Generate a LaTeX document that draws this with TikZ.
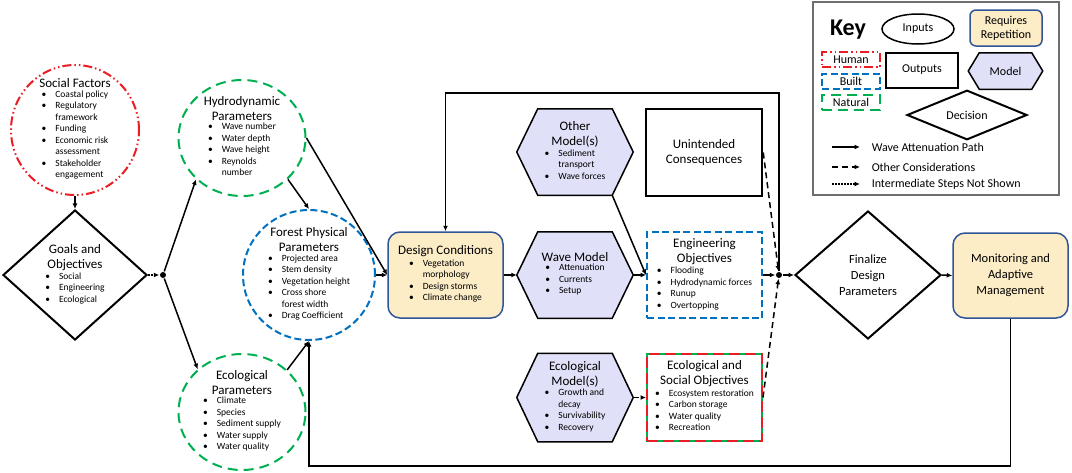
\documentclass[tikz,border=0pt]{standalone}
\usepackage{fontspec}
\setmainfont{Carlito}
\usetikzlibrary{shapes.geometric,arrows.meta,backgrounds}

\definecolor{humanred}{RGB}{235,28,36}
\definecolor{natgreen}{RGB}{0,176,80}
\definecolor{builtblue}{RGB}{0,112,192}
\definecolor{repfill}{RGB}{252,237,199}
\definecolor{repline}{RGB}{47,85,151}
\definecolor{modelfill}{RGB}{224,224,248}
\definecolor{keygray}{RGB}{110,110,110}

\newcommand{\blist}[1]{{\fontsize{9.5}{11.5}\selectfont\begin{tabular}{@{}l@{\hspace{9pt}}l@{}}#1\end{tabular}}}
\newcommand{\bitem}{\textbullet&}
\newcommand{\hexshape}[2][21pt]{%
  \begin{scope}[on background layer]
  \draw[model line] (#2.west) -- ([xshift=#1]#2.north west) -- ([xshift=-#1]#2.north east) -- (#2.east) -- ([xshift=-#1]#2.south east) -- ([xshift=#1]#2.south west) -- cycle;
  \end{scope}}

\begin{document}
\begin{tikzpicture}[x=1pt, y=-1pt, line width=1.5pt, >={Latex[length=5.5pt,width=5pt]},
  every node/.style={align=center, font=\fontsize{13}{15}\selectfont},
  oval node/.style={ellipse, line width=2pt, inner sep=-25pt},
  human/.style={draw=humanred, dash pattern=on 9pt off 3pt on 1.5pt off 3pt on 1.5pt off 3pt},
  natural/.style={draw=natgreen, dash pattern=on 10pt off 6pt},
  built/.style={draw=builtblue, dash pattern=on 7pt off 3.5pt},
  decision node/.style={diamond, draw, line width=2pt, inner sep=-6pt},
  rep node/.style={rectangle, rounded corners=12pt, draw=repline, fill=repfill, line width=1.5pt},
  model node/.style={rectangle, inner sep=0pt},
  model line/.style={draw=black, fill=modelfill, line width=1.5pt},
  out node/.style={rectangle, draw, line width=2.5pt},
  obj node/.style={rectangle, line width=2pt},
  junction/.style={circle, fill, inner sep=0pt, minimum size=6pt},
  dashed link/.style={dash pattern=on 6pt off 4pt},
  dotted link/.style={dash pattern=on 1.5pt off 1.5pt},
  key text/.style={font=\fontsize{12}{14}\selectfont}]
\useasboundingbox (0,0) rectangle (1072,472);

% inputs
\node[oval node, human, minimum width=128pt, minimum height=130pt] (soc) at (75,130) {Social Factors\\ \blist{\bitem Coastal policy\\ \bitem Regulatory\\ & framework\\ \bitem Funding\\ \bitem Economic risk\\ & assessment\\ \bitem Stakeholder\\ & engagement}};
\node[decision node, minimum width=144pt, minimum height=130pt] (goals) at (75,275) {Goals and\\Objectives\\ \blist{\bitem Social\\ \bitem Engineering\\ \bitem Ecological}};
\node[junction] (j1) at (163,275) {};
\node[oval node, natural, minimum width=127pt, minimum height=116pt] (hydro) at (242,138) {Hydrodynamic\\Parameters\\ \blist{\bitem Wave number\\ \bitem Water depth\\ \bitem Wave height\\ \bitem Reynolds\\ & number}};
\node[oval node, built, minimum width=132pt, minimum height=130pt] (forest) at (309,275) {Forest Physical\\Parameters\\ \blist{\bitem Projected area\\ \bitem Stem density\\ \bitem Vegetation height\\ \bitem Cross shore\\ & forest width\\ \bitem Drag Coefficient}};
\node[oval node, natural, minimum width=127pt, minimum height=116pt] (eco) at (242,412) {Ecological\\Parameters\\ \blist{\bitem Climate\\ \bitem Species\\ \bitem Sediment supply\\ \bitem Water supply\\ \bitem Water quality}};

% design and models
\node[rep node, minimum width=115pt, minimum height=86pt] (design) at (445.5,275) {Design Conditions\\ \blist{\bitem Vegetation\\ & morphology\\ \bitem Design storms\\ \bitem Climate change}};
\node[model node, minimum width=115pt, minimum height=85pt] (other) at (575,152) {Other\\Model(s)\\ \blist{\bitem Sediment\\ & transport\\ \bitem Wave forces}};
\hexshape{other}
\node[model node, minimum width=115pt, minimum height=85pt] (wave) at (575,275) {Wave Model\\ \blist{\bitem Attenuation\\ \bitem Currents\\ \bitem Setup}};
\hexshape{wave}
\node[model node, minimum width=115pt, minimum height=87pt] (ecomod) at (575,397.5) {Ecological\\Model(s)\\ \blist{\bitem Growth and\\ & decay\\ \bitem Survivability\\ \bitem Recovery}};
\hexshape{ecomod}

% outputs
\node[out node, minimum width=116pt, minimum height=87pt] (unint) at (704,152.5) {Unintended\\Consequences};
\node[obj node, built, minimum width=115pt, minimum height=86pt, inner sep=0pt] (eng) at (704.5,275) {Engineering\\Objectives\\ \blist{\bitem Flooding\\ \bitem Hydrodynamic forces\\ \bitem Runup\\ \bitem Overtopping}};
\node[obj node, draw=natgreen, postaction={draw=humanred, dash pattern=on 11pt off 5pt}, minimum width=115pt, minimum height=87pt, inner sep=0pt] (ecoobj) at (704.5,397.5) {Ecological and\\Social Objectives\\ \blist{\bitem Ecosystem restoration\\ \bitem Carbon storage\\ \bitem Water quality\\ \bitem Recreation}};
\node[junction] (j2) at (779,275) {};
\node[decision node, minimum width=146pt, minimum height=128pt, font=\fontsize{12.5}{16}\selectfont] (fin) at (868,275) {Finalize\\Design\\Parameters};
\node[rep node, minimum width=115pt, minimum height=85pt, font=\fontsize{12.5}{16}\selectfont] (mon) at (1010.5,275.5) {Monitoring and\\Adaptive\\Management};

% connectors
\draw[->] (soc) -- (goals);
\draw[->, dotted link] (goals.east) -- (j1);
\draw[->] (j1) -- (hydro.222);
\draw[->] (j1) -- (eco.136);
\draw[->] (hydro.-42) -- (forest.north);
\draw[->] (hydro.east) -- (design.west);
\draw[->] (forest.east) -- (design.west);
\draw[->] (eco.43) -- (forest.south);
\draw[->] (design.east) -- (wave.west);
\draw[->] (wave.east) -- (eng.west);
\draw[->] ([xshift=-21pt]other.south east) -- (eng.west);
\draw[->, dashed link] (ecomod.east) -- (ecoobj.west);
\draw[->] (eng.east) -- (j2);
\draw[->, dashed link] (unint.east) -- (j2);
\draw[->, dashed link] (ecoobj.east) -- (j2);
\draw[->] (j2) -- (fin.west);
\draw[->] (j2) -- ++(0,-182) -| (design.north);
\draw[->] (fin.east) -- (mon.west);
\draw[->] (mon.south) -- ++(0,147) -| (forest.south);

% key
\draw[draw=keygray, line width=1.2pt] (813,2) rectangle (1059,195);
\node[font=\fontsize{24}{24}\selectfont\bfseries] (key) at (848,30) {Key};
\node[ellipse, draw, line width=1.5pt, minimum width=72pt, minimum height=30pt, inner sep=0pt, key text] (kin) at (918,29) {Inputs};
\node[rep node, rounded corners=6pt, minimum width=72pt, minimum height=36pt, inner sep=0pt, key text] (krep) at (1006,28) {Requires\\Repetition};
\node[obj node, human, minimum width=58pt, minimum height=15pt, inner sep=0pt, key text] (khum) at (851,59.5) {Human};
\node[obj node, built, minimum width=58pt, minimum height=15pt, inner sep=0pt, key text] (kbuilt) at (851,81) {Built};
\node[obj node, natural, minimum width=58pt, minimum height=15pt, inner sep=0pt, key text] (knat) at (851,102) {Natural};
\node[out node, line width=2pt, minimum width=72pt, minimum height=35pt, key text] (kout) at (922,70) {Outputs};
\node[model node, minimum width=73pt, minimum height=35pt, key text] (kmod) at (1005.5,71) {Model};
\hexshape[11pt]{kmod}
\node[decision node, minimum width=120pt, minimum height=36pt, inner sep=0pt, key text] (kdec) at (967,115) {Decision};
\node[anchor=west, inner sep=0pt, key text] (lwave) at (871,147) {Wave Attenuation Path};
\node[anchor=west, inner sep=0pt, key text] (lother) at (871,167) {Other Considerations};
\node[anchor=west, inner sep=0pt, key text] (lsteps) at (871,184) {Intermediate Steps Not Shown};
\coordinate (kw) at (832,147);
\coordinate (ko) at (832,167);
\coordinate (ks) at (832,184);
\draw[->] (kw) -- ([xshift=-11pt]lwave.west);
\draw[->, dashed link] (ko) -- ([xshift=-11pt]lother.west);
\draw[->, dotted link] (ks) -- ([xshift=-11pt]lsteps.west);
\end{tikzpicture}
\end{document}
